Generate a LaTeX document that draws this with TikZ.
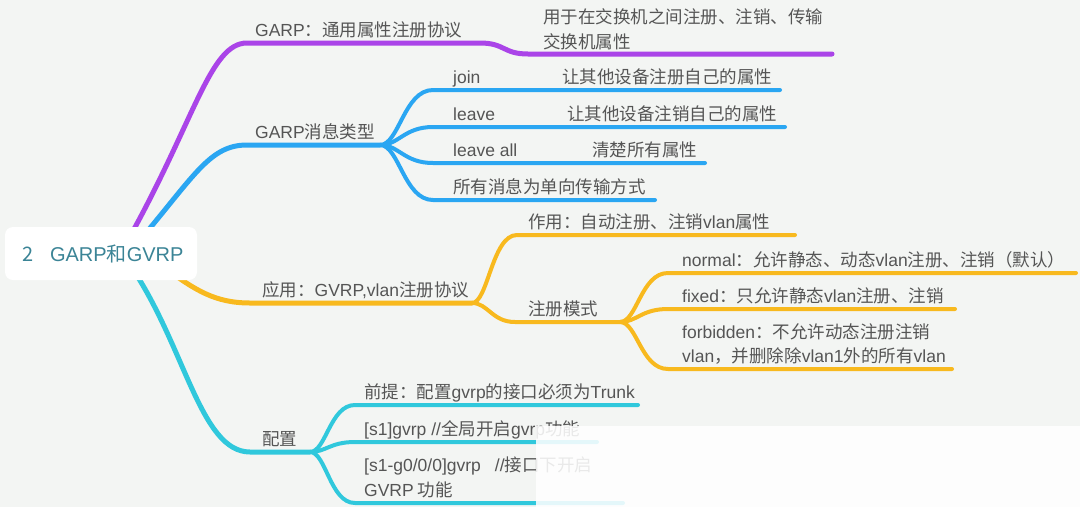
\documentclass[tikz,border=0pt]{standalone}
\usepackage{fontspec}
\newfontfamily\cjk{Noto Sans CJK SC}
\newfontfamily\enfont{Liberation Sans}
\newcommand{\latn}[1]{{\enfont #1}}
\definecolor{bgc}{RGB}{243,245,243}
\definecolor{tc}{RGB}{85,85,85}
\definecolor{rootc}{RGB}{59,132,150}
\definecolor{cpur}{RGB}{170,68,232}
\definecolor{cblu}{RGB}{42,166,242}
\definecolor{cyel}{RGB}{248,185,30}
\definecolor{ccya}{RGB}{48,200,220}
\begin{document}
\begin{tikzpicture}[x=1pt,y=-1pt,
  txt/.style={font=\cjk\fontsize{17.5}{25}\selectfont, text=tc, inner sep=0pt, anchor=base west, align=left},
  mainline/.style={line width=5pt, line cap=round},
  subline/.style={line width=4pt, line cap=round},
  rootbox/.style={fill=white, rounded corners=8pt, minimum height=53pt, inner xsep=18pt, inner ysep=0pt,
     font=\cjk\fontsize{20}{24}\selectfont, text=rootc}]
\fill[bgc] (0,0) rectangle (1080,507);
\useasboundingbox (0,0) rectangle (1080,507);

% ---------- coordinates ----------
\coordinate (rp) at (128,240);
\coordinate (rb) at (140,240);
\coordinate (ry) at (165,268);
\coordinate (rc) at (130,265);

\coordinate (p1s) at (247,43);  \coordinate (p1e) at (480,43);
\coordinate (p2s) at (528,54);  \coordinate (p2e) at (832,54);

\coordinate (b0s) at (247,145); \coordinate (bj) at (380,145);
\coordinate (b1s) at (433,90);  \coordinate (b1e) at (780,90);
\coordinate (b2s) at (433,127); \coordinate (b2e) at (785,127);
\coordinate (b3s) at (433,163); \coordinate (b3e) at (705,163);
\coordinate (b4s) at (433,200); \coordinate (b4e) at (655,200);

\coordinate (y0s) at (250,303); \coordinate (yj) at (472,303);
\coordinate (y1s) at (517,235); \coordinate (y1e) at (795,235);
\coordinate (y2s) at (515,322); \coordinate (yj2) at (620,322);
\coordinate (y3s) at (668,273); \coordinate (y3e) at (1076,273);
\coordinate (y4s) at (668,309); \coordinate (y4e) at (955,309);
\coordinate (y5s) at (668,369); \coordinate (y5e) at (952,369);

\coordinate (c0s) at (250,452); \coordinate (cj) at (310,452);
\coordinate (c1s) at (355,405); \coordinate (c1e) at (638,405);
\coordinate (c2s) at (355,442); \coordinate (c2e) at (597,442);
\coordinate (c3s) at (355,503); \coordinate (c3e) at (623,503);

% ---------- purple ----------
\draw[mainline, cpur] (rp) .. controls (195,120) and (210,43) .. (p1s) -- (p1e)
   .. controls (505,43) and (503,54) .. (p2s) -- (p2e);

% ---------- blue ----------
\draw[mainline, cblu] (rb) .. controls (195,175) and (210,145) .. (b0s) -- (bj);
\draw[subline, cblu] (bj) .. controls (399,145) and (404,90) .. (b1s) -- (b1e);
\draw[subline, cblu] (bj) .. controls (399,145) and (404,127) .. (b2s) -- (b2e);
\draw[subline, cblu] (bj) .. controls (399,145) and (404,163) .. (b3s) -- (b3e);
\draw[subline, cblu] (bj) .. controls (399,145) and (404,200) .. (b4s) -- (b4e);

% ---------- yellow ----------
\draw[mainline, cyel] (ry) .. controls (195,290) and (215,303) .. (y0s) -- (yj);
\draw[subline, cyel] (yj) .. controls (488,303) and (492,235) .. (y1s) -- (y1e);
\draw[subline, cyel] (yj) .. controls (488,303) and (492,322) .. (y2s) -- (yj2);
\draw[subline, cyel] (yj2) .. controls (637,322) and (641,273) .. (y3s) -- (y3e);
\draw[subline, cyel] (yj2) .. controls (637,322) and (641,309) .. (y4s) -- (y4e);
\draw[subline, cyel] (yj2) .. controls (637,322) and (641,369) .. (y5s) -- (y5e);

% ---------- cyan ----------
\draw[mainline, ccya] (rc) .. controls (185,345) and (200,452) .. (c0s) -- (cj);
\draw[subline, ccya] (cj) .. controls (326,452) and (330,405) .. (c1s) -- (c1e);
\draw[subline, ccya] (cj) .. controls (326,452) and (330,442) .. (c2s) -- (c2e);
\draw[subline, ccya] (cj) .. controls (326,452) and (330,503) .. (c3s) -- (c3e);

% ---------- root ----------
\node[rootbox] (root) at (101,253.5) {\makebox[156pt][l]{2\hspace{16pt}\latn{GARP}和\latn{GVRP}}};

% ---------- texts (multi-line nodes: base = last line) ----------
\node[txt] (tp1) at (255,36) {\latn{GARP}：通用属性注册协议};
\node[txt] (tp2) at (543,48) {用于在交换机之间注册、注销、传输\\交换机属性};

\node[txt] (tb0) at (255,138) {\latn{GARP}消息类型};
\node[txt] (tb1) at (453,83) {\latn{join}};
\node[txt] (tb1d) at (562,83) {让其他设备注册自己的属性};
\node[txt] (tb2) at (453,120) {\latn{leave}};
\node[txt] (tb2d) at (567,120) {让其他设备注销自己的属性};
\node[txt] (tb3) at (453,156) {\latn{leave all}};
\node[txt] (tb3d) at (592,156) {清楚所有属性};
\node[txt] (tb4) at (453,193) {所有消息为单向传输方式};

\node[txt] (ty0) at (262,296) {应用：\latn{GVRP,vlan}注册协议};
\node[txt] (ty1) at (528,228) {作用：自动注册、注销\latn{vlan}属性};
\node[txt] (ty2) at (528,315) {注册模式};
\node[txt] (ty3) at (682,266) {\latn{normal}：允许静态、动态\latn{vlan}注册、注销（默认）};
\node[txt] (ty4) at (682,302) {\latn{fixed}：只允许静态\latn{vlan}注册、注销};
\node[txt] (ty5) at (682,362) {\latn{forbidden}：不允许动态注册注销\\[-1pt]\latn{vlan}，并删除除\latn{vlan1}外的所有\latn{vlan}};

\node[txt] (tc0) at (262,445) {配置};
\node[txt] (tc1) at (364,398) {前提：配置\latn{gvrp}的接口必须为\latn{Trunk}};
\node[txt] (tc2) at (364,435) {\latn{[s1]gvrp //}全局开启\latn{gvrp}功能};
\node[txt] (tc3) at (364,496) {\latn{[s1-g0/0/0]gvrp\hspace{14pt}//}接口下开启\\\latn{GVRP} 功能};

% ---------- white cover (as in the reference) ----------
\fill[white, opacity=0.87] (536,426) rectangle (1080,507);
\end{tikzpicture}
\end{document}
